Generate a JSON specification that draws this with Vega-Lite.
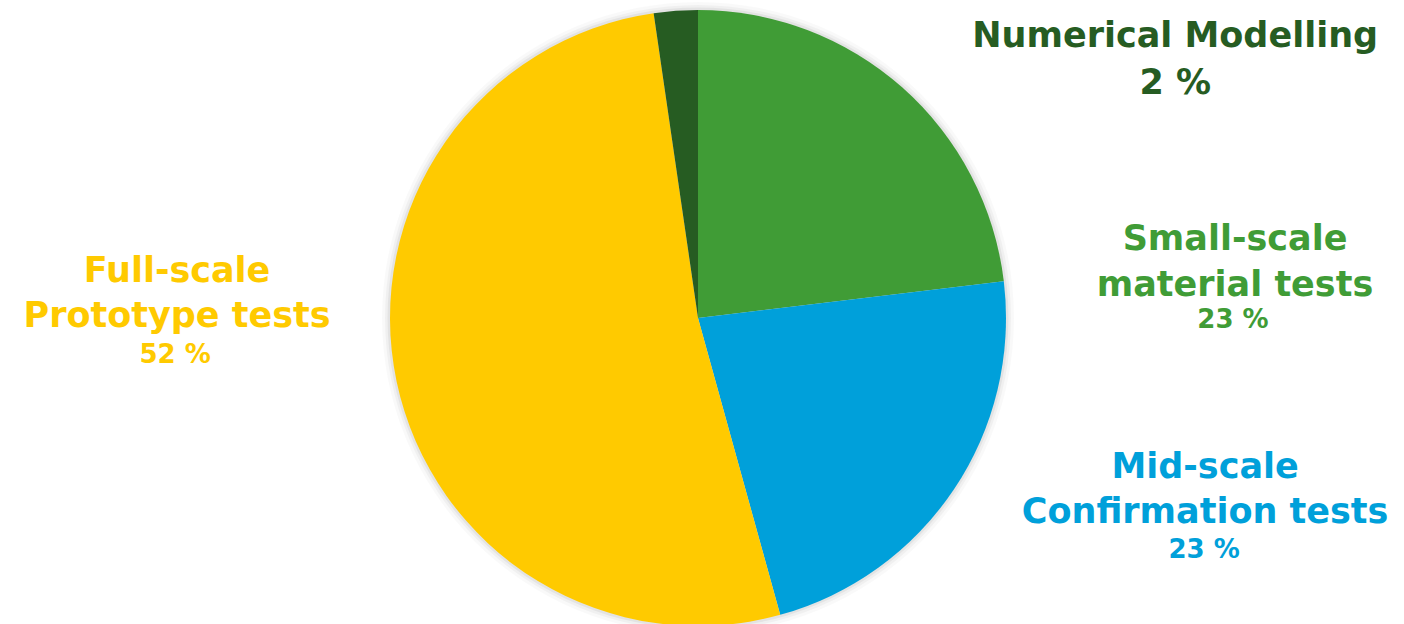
{
  "$schema": "https://vega.github.io/schema/vega-lite/v6.json",
  "width": 1396,
  "height": 612,
  "autosize": "none",
  "padding": {"left": 0, "right": 8, "top": 12, "bottom": 0},
  "background": "white",
  "config": {"view": {"stroke": null}},
  "data": {
    "values": [
      {"cat": "Small-scale material tests", "name": "Small-scale\nmaterial tests", "pct": "23 %", "value": 23.1, "rank": 1},
      {"cat": "Mid-scale Confirmation tests", "name": "Mid-scale\nConfirmation tests", "pct": "23 %", "value": 22.6, "rank": 2},
      {"cat": "Full-scale Prototype tests", "name": "Full-scale\nPrototype tests", "pct": "52 %", "value": 52.0, "rank": 3},
      {"cat": "Numerical Modelling", "name": "Numerical Modelling\n2 %", "pct": "2 %", "value": 2.3, "rank": 4}
    ]
  },
  "layer": [
    {
      "data": {"values": [{"s": 1}]},
      "mark": {"type": "arc", "theta": 0, "theta2": 6.2832, "radius": 316, "color": "#000000", "opacity": 0.025},
      "encoding": {}
    },
    {
      "data": {"values": [{"s": 1}]},
      "mark": {"type": "arc", "theta": 0, "theta2": 6.2832, "radius": 313, "color": "#000000", "opacity": 0.035},
      "encoding": {}
    },
    {
      "data": {"values": [{"s": 1}]},
      "mark": {"type": "arc", "theta": 0, "theta2": 6.2832, "radius": 310.5, "color": "#000000", "opacity": 0.05},
      "encoding": {}
    },
    {
      "mark": {"type": "arc", "radius": 308, "stroke": null},
      "encoding": {
        "theta": {"field": "value", "type": "quantitative", "stack": true},
        "order": {"field": "rank", "type": "quantitative"},
        "color": {
          "field": "cat", "type": "nominal", "legend": null,
          "scale": {
            "domain": ["Small-scale material tests", "Mid-scale Confirmation tests", "Full-scale Prototype tests", "Numerical Modelling"],
            "range": ["#409C36", "#00A0DA", "#FFCA00", "#265C22"]
          }
        }
      }
    },
    {
      "mark": {"type": "text", "radius": 330, "font": "DejaVu Sans", "fontWeight": "bold", "fontSize": 35, "lineBreak": "\n", "lineHeight": 46, "align": "center", "baseline": "alphabetic", "color": "#409C36", "dx": 318, "dy": 179},
      "encoding": {
        "theta": {"field": "value", "type": "quantitative", "stack": true},
        "order": {"field": "rank", "type": "quantitative"},
        "detail": {"field": "cat"},
        "text": {"condition": {"test": "datum.rank === 1", "field": "name"}, "value": ""}
      }
    },
    {
      "mark": {"type": "text", "radius": 330, "font": "DejaVu Sans", "fontWeight": "bold", "fontSize": 26, "align": "center", "baseline": "alphabetic", "color": "#409C36", "dx": 316, "dy": 257},
      "encoding": {
        "theta": {"field": "value", "type": "quantitative", "stack": true},
        "order": {"field": "rank", "type": "quantitative"},
        "detail": {"field": "cat"},
        "text": {"condition": {"test": "datum.rank === 1", "field": "pct"}, "value": ""}
      }
    },
    {
      "mark": {"type": "text", "radius": 330, "font": "DejaVu Sans", "fontWeight": "bold", "fontSize": 35, "lineBreak": "\n", "lineHeight": 45, "align": "center", "baseline": "alphabetic", "color": "#00A0DA", "dx": 233, "dy": -24},
      "encoding": {
        "theta": {"field": "value", "type": "quantitative", "stack": true},
        "order": {"field": "rank", "type": "quantitative"},
        "detail": {"field": "cat"},
        "text": {"condition": {"test": "datum.rank === 2", "field": "name"}, "value": ""}
      }
    },
    {
      "mark": {"type": "text", "radius": 330, "font": "DejaVu Sans", "fontWeight": "bold", "fontSize": 26, "align": "center", "baseline": "alphabetic", "color": "#00A0DA", "dx": 232, "dy": 56},
      "encoding": {
        "theta": {"field": "value", "type": "quantitative", "stack": true},
        "order": {"field": "rank", "type": "quantitative"},
        "detail": {"field": "cat"},
        "text": {"condition": {"test": "datum.rank === 2", "field": "pct"}, "value": ""}
      }
    },
    {
      "mark": {"type": "text", "radius": 330, "font": "DejaVu Sans", "fontWeight": "bold", "fontSize": 35, "lineBreak": "\n", "lineHeight": 45, "align": "center", "baseline": "alphabetic", "color": "#FFCA00", "dx": -198, "dy": -104},
      "encoding": {
        "theta": {"field": "value", "type": "quantitative", "stack": true},
        "order": {"field": "rank", "type": "quantitative"},
        "detail": {"field": "cat"},
        "text": {"condition": {"test": "datum.rank === 3", "field": "name"}, "value": ""}
      }
    },
    {
      "mark": {"type": "text", "radius": 330, "font": "DejaVu Sans", "fontWeight": "bold", "fontSize": 26, "align": "center", "baseline": "alphabetic", "color": "#FFCA00", "dx": -200, "dy": -23},
      "encoding": {
        "theta": {"field": "value", "type": "quantitative", "stack": true},
        "order": {"field": "rank", "type": "quantitative"},
        "detail": {"field": "cat"},
        "text": {"condition": {"test": "datum.rank === 3", "field": "pct"}, "value": ""}
      }
    },
    {
      "mark": {"type": "text", "radius": 330, "font": "DejaVu Sans", "fontWeight": "bold", "fontSize": 35, "lineBreak": "\n", "lineHeight": 47, "align": "center", "baseline": "alphabetic", "color": "#265C22", "dx": 501, "dy": 58},
      "encoding": {
        "theta": {"field": "value", "type": "quantitative", "stack": true},
        "order": {"field": "rank", "type": "quantitative"},
        "detail": {"field": "cat"},
        "text": {"condition": {"test": "datum.rank === 4", "field": "name"}, "value": ""}
      }
    }
  ]
}
